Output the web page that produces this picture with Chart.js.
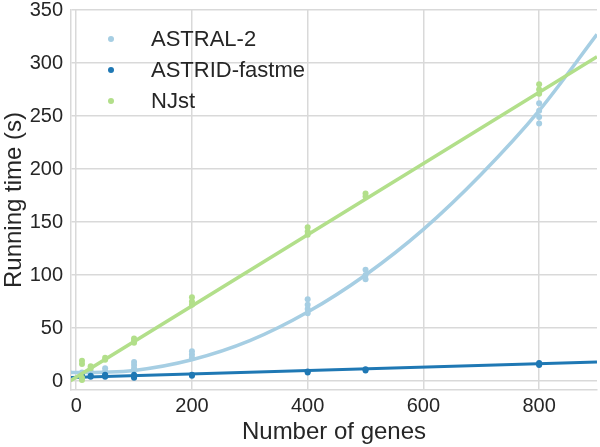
<!DOCTYPE html>
<html>
<head>
<meta charset="utf-8">
<script src="https://cdn.jsdelivr.net/npm/chart.js@4/dist/chart.umd.min.js"></script>
<style>
  html, body { margin: 0; padding: 0; background: #fff; }
  #wrap { width: 600px; height: 447px; }
</style>
</head>
<body>
<div id="wrap"><canvas id="runtime" width="600" height="447"></canvas></div>
<script>
// replicate runs at each gene count (seconds)
const geneCounts = [10, 25, 50, 100, 200, 400, 500, 800];
const astralTimes = [[6, 8], [7, 9], [7, 9, 12], [12, 15, 18], [22, 25, 28], [64, 68, 72, 77], [96, 100, 105], [243, 249, 255, 262]];
const astridTimes = [[3, 5], [4, 5], [4, 5, 6], [3, 4, 6], [5, 6], [8, 9], [10, 11], [15, 16, 17]];
const njstTimes = [[1, 3, 16, 19], [12, 14], [20, 22], [36, 38, 40], [72, 75, 79], [138, 141, 145], [174, 177], [271, 275, 280]];

// fitted curves, read at these x positions
const fitX = [-10, 0, 100, 200, 300, 400, 500, 600, 700, 800, 900];
const astralFit = [8.2, 8, 10, 20, 38, 65, 100, 143, 195, 255, 327];
const lineX = [-10, 900];
const astridFit = [3.3, 18];
const njstFit = [0.2, 306];

const methods = ["ASTRAL-2", "ASTRID-fastme", "NJst"];
const colors = ["#a6cee3", "#1f78b4", "#b2df8a"];

const xTicks = [0, 200, 400, 600, 800];

function points(xs, ys) {
  return xs.map((x, i) => ({ x: x, y: ys[i] }));
}

function replicatePoints(times) {
  let out = [];
  times.forEach((runs, i) => {
    runs.forEach((t) => out.push({ x: geneCounts[i], y: t }));
  });
  return out;
}

const fits = [points(fitX, astralFit), points(lineX, astridFit), points(lineX, njstFit)];
const reps = [astralTimes, astridTimes, njstTimes];

let datasets = [];
methods.forEach((name, i) => {
  datasets.push({
    label: name,
    data: replicatePoints(reps[i]),
    showLine: false,
    pointRadius: 3,
    pointHoverRadius: 3,
    pointBorderWidth: 0,
    backgroundColor: colors[i],
    borderColor: colors[i],
    order: 3 - i,
  });
  datasets.push({
    label: name + " fit",
    data: fits[i],
    showLine: true,
    pointRadius: 0,
    borderWidth: i === 1 ? 3 : 3.5,
    borderColor: colors[i],
    backgroundColor: colors[i],
    cubicInterpolationMode: "monotone",
    fill: false,
    order: 3 - i,
  });
});

// legend sits inside the plot, top left
const insideLegend = {
  id: "insideLegend",
  afterDraw(chart) {
    const ctx = chart.ctx;
    ctx.save();
    ctx.font = "22px 'Liberation Sans', Arial, sans-serif";
    ctx.textBaseline = "middle";
    ctx.fillStyle = "#262626";
    methods.forEach((name, i) => {
      const y = 39 + i * 31;
      ctx.beginPath();
      ctx.arc(111, y, 3, 0, Math.PI * 2);
      ctx.fillStyle = colors[i];
      ctx.fill();
      ctx.fillStyle = "#262626";
      ctx.fillText(name, 151, y + 1);
    });
    ctx.restore();
  },
};

const gridColor = "#d9d9d9";
const textColor = "#262626";
const font = "'Liberation Sans', Arial, sans-serif";

new Chart(document.getElementById("runtime"), {
  type: "scatter",
  data: { datasets: datasets },
  options: {
    responsive: false,
    animation: false,
    layout: { padding: 0 },
    plugins: {
      legend: { display: false },
      tooltip: { enabled: false },
    },
    scales: {
      x: {
        type: "linear",
        min: -9,
        max: 900,
        afterFit: (s) => { s.height = 57; s.paddingLeft = 0; s.paddingRight = 0; },
        afterBuildTicks: (s) => { s.ticks = xTicks.map((v) => ({ value: v })); },
        grid: { color: gridColor, lineWidth: 1.5, drawTicks: false },
        border: { color: gridColor, width: 1.5 },
        ticks: { color: textColor, padding: 4, font: { family: font, size: 20 } },
        title: {
          display: true,
          text: "Number of genes",
          color: textColor,
          font: { family: font, size: 24 },
          padding: { top: 0, bottom: 0 },
        },
      },
      y: {
        min: -8.5,
        max: 350,
        afterFit: (s) => { s.width = 71; s.paddingTop = 10; s.paddingBottom = 0; },
        grid: { color: gridColor, lineWidth: 1.5, drawTicks: false },
        border: { color: gridColor, width: 1.5 },
        ticks: { stepSize: 50, includeBounds: false, color: textColor, padding: 8, font: { family: font, size: 20 } },
        title: {
          display: true,
          text: "Running time (s)",
          color: textColor,
          font: { family: font, size: 24 },
          padding: { top: 0, bottom: 0 },
        },
      },
    },
  },
  plugins: [insideLegend],
});
</script>
</body>
</html>
